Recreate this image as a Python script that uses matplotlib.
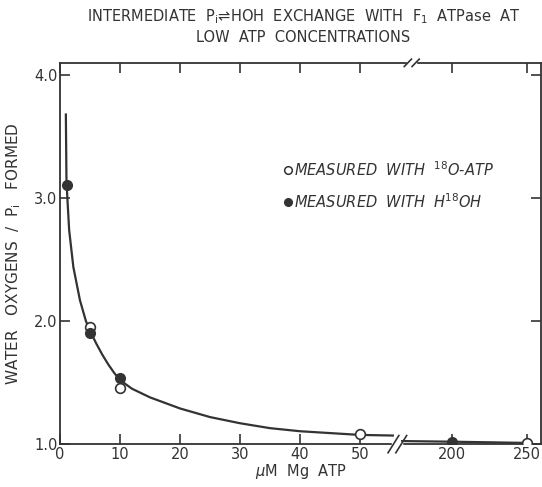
import matplotlib
matplotlib.use("Agg")
import matplotlib.pyplot as plt
import numpy as np

# Data (x in uM Mg ATP)
open_x = [5, 10, 50, 250]          # measured with 18O-ATP
open_y = [1.95, 1.46, 1.08, 1.01]
filled_x = [1.1, 5, 10, 200]       # measured with H18OH
filled_y = [3.11, 1.90, 1.54, 1.02]

# hand-drawn fitted curve, left segment
curve_x = [0.95, 1.05, 1.2, 1.5, 2.2, 3.3, 4.3, 5, 6, 7, 8, 9, 10, 12, 15, 20, 25,
           30, 35, 40, 45, 50, 55.5]
curve_y = [3.68, 3.15, 3.0, 2.74, 2.44, 2.17, 2.0, 1.92, 1.82, 1.73, 1.65, 1.58, 1.52,
           1.45, 1.38, 1.29, 1.22, 1.17, 1.13, 1.105, 1.09, 1.075, 1.07]
# right segment after the axis break
curve2_x = [167, 200, 250]
curve2_y = [1.025, 1.02, 1.01]

xticks = [0, 10, 20, 30, 40, 50, 200, 250]
yticks = [1.0, 2.0, 3.0, 4.0]

INK = "#333333"


def pos(x):
    # broken x axis: 0-50 linear, then 200-250 compressed
    x = np.asarray(x, dtype=float)
    return np.where(x <= 60, x, 65.3 + (x - 200) * 0.25)


fig = plt.figure(figsize=(5.42, 4.87), dpi=100)
ax = fig.add_axes([0.111, 0.088, 0.887, 0.783])
ax.set_xlim(0, 80.2)
ax.set_ylim(1.0, 4.10)

ax.plot(pos(curve_x), curve_y, color=INK, lw=1.6)
ax.plot(pos(curve2_x), curve2_y, color=INK, lw=1.6)
ax.plot(pos(open_x), open_y, "o", mfc="white", mec=INK, mew=1.2, ms=7, zorder=3)
ax.plot(pos(filled_x), filled_y, "o", mfc=INK, mec=INK, ms=7, zorder=4)

for s in ax.spines.values():
    s.set_color(INK)
    s.set_linewidth(1.3)

ax.set_xticks(pos(xticks))
ax.set_xticklabels([str(t) for t in xticks])
ax.set_yticks(yticks)
ax.set_yticklabels(["1.0", "2.0", "3.0", "4.0"])
ax.tick_params(direction="in", length=7, width=1.2, color=INK, labelcolor=INK,
               labelsize=10.5, top=True, right=True, pad=2)

# break marks on bottom and top axes
for xb, yb, h, w in [(55.6, 1.0, 0.07, 0.9), (58.0, 4.10, 0.03, 0.6)]:
    ax.add_patch(plt.Rectangle((xb - 0.2, yb - 0.02), 1.6, 0.04, color="white",
                               clip_on=False, zorder=5))
    for dx in (0, 1.3):
        ax.plot([xb + dx - w, xb + dx + w], [yb - h, yb + h], color=INK, lw=1.2,
                clip_on=False, zorder=6)

ax.set_xlabel(r"$\mu$M  Mg  ATP", color=INK, fontsize=10.5, labelpad=0)
ax.set_ylabel(r"WATER   OXYGENS  /  P$_{\rm i}$   FORMED", color=INK, fontsize=11,
              labelpad=8)

fig.text(0.56, 0.965, "INTERMEDIATE  P$_{\\rm i}$\u21ccHOH  EXCHANGE  WITH  F$_{1}$  ATPase  AT",
         ha="center", va="center", fontsize=10.5, color=INK)
fig.text(0.56, 0.922, "LOW  ATP  CONCENTRATIONS", ha="center", va="center",
         fontsize=10.5, color=INK)

# legend
ax.plot([0.474], [0.72], "o", mfc="white", mec=INK, mew=1.1, ms=5.5, transform=ax.transAxes)
ax.text(0.486, 0.72, r"MEASURED  WITH  $^{18}$O-ATP", transform=ax.transAxes,
        va="center", fontsize=10.5, style="italic", color=INK)
ax.plot([0.474], [0.635], "o", mfc=INK, mec=INK, ms=5.5, transform=ax.transAxes)
ax.text(0.486, 0.635, r"MEASURED  WITH  H$^{18}$OH", transform=ax.transAxes,
        va="center", fontsize=10.5, style="italic", color=INK)

fig.savefig("out.png", dpi=100)
